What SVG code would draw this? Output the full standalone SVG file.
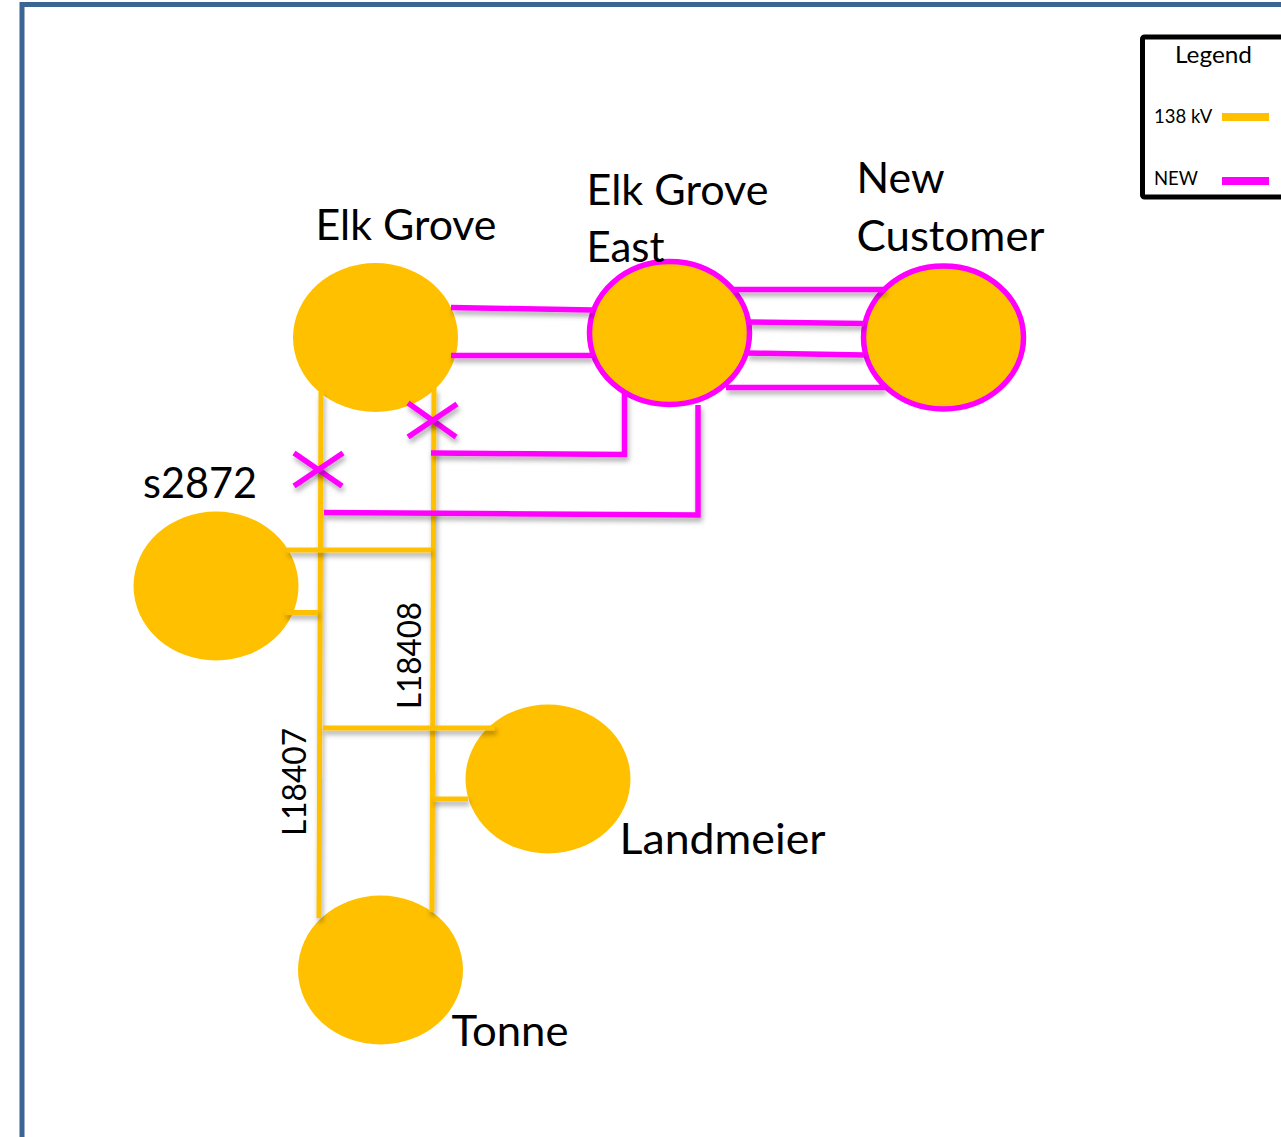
<svg xmlns="http://www.w3.org/2000/svg" width="1281" height="1137" viewBox="0 0 1281 1137">
<style>
text{font-family:"Lato","Open Sans","Liberation Sans",sans-serif;fill:#000}
.big{font-size:43px}
.mid{font-size:32.5px}
.leg{font-size:18.5px}
.hv{fill:#FFC000;stroke:none}
.nw{fill:#FFC000;stroke:#FF00FF;stroke-width:5.5}
#connectors line,#connectors polyline{fill:none;stroke-width:5;filter:url(#sh)}
.y{stroke:#FFC000}
#connectors .m{stroke:#FF00FF;stroke-width:5.5}
</style>
<defs>
<filter id="sh" x="0" y="0" width="1281" height="1137" filterUnits="userSpaceOnUse" primitiveUnits="userSpaceOnUse">
<feDropShadow dx="1.5" dy="4" stdDeviation="2.5" flood-color="#000" flood-opacity="0.32"/>
</filter>
</defs>
<rect width="1281" height="1137" fill="#fff"/>
<rect id="frame" x="22" y="4.5" width="1400" height="1300" fill="none" stroke="#3B6593" stroke-width="5"/>
<g id="legend">
<rect x="1142.5" y="37" width="200" height="160" rx="2" fill="#fff" stroke="#000" stroke-width="5"/>
<text x="1175" y="62.500" style="font-size:24px" textLength="77" lengthAdjust="spacingAndGlyphs">Legend</text>
<text x="1154" y="123" class="leg">138 kV</text>
<text x="1154" y="185" class="leg">NEW</text>
<rect x="1222" y="113" width="47" height="8" fill="#FFC000"/>
<rect x="1222" y="177" width="47" height="8" fill="#FF00FF"/>
</g>
<g id="node-elk-grove"><ellipse class="hv" cx="375.500" cy="337.500" rx="82.500" ry="74.500"/><text x="315.500" y="239.500" class="big" textLength="181" lengthAdjust="spacingAndGlyphs">Elk Grove</text></g>
<g id="node-s2872"><ellipse class="hv" cx="216" cy="586" rx="82.500" ry="74.500"/><text x="143" y="497.500" class="big" textLength="114" lengthAdjust="spacingAndGlyphs">s2872</text></g>
<g id="node-landmeier"><ellipse class="hv" cx="548" cy="779" rx="82.500" ry="74.500"/><text x="619.500" y="854" class="big" textLength="206" lengthAdjust="spacingAndGlyphs">Landmeier</text></g>
<g id="node-tonne"><ellipse class="hv" cx="380.500" cy="970" rx="82.500" ry="74.500"/><text x="451.500" y="1045.500" class="big" textLength="117" lengthAdjust="spacingAndGlyphs">Tonne</text></g>
<g id="node-elk-grove-east"><ellipse class="nw" cx="669.500" cy="333" rx="80" ry="71.500"/><text x="586.500" y="205" class="big" textLength="182" lengthAdjust="spacingAndGlyphs">Elk Grove</text><text x="586.500" y="262" class="big" textLength="78" lengthAdjust="spacingAndGlyphs">East</text></g>
<g id="node-new-customer"><ellipse class="nw" cx="943.500" cy="337.500" rx="80" ry="71.500"/><text x="856.500" y="193" class="big" textLength="88" lengthAdjust="spacingAndGlyphs">New</text><text x="856.500" y="251" class="big" textLength="188" lengthAdjust="spacingAndGlyphs">Customer</text></g>
<g id="connectors">
<line class="y" x1="321" y1="392" x2="319" y2="918"/>
<line class="y" x1="434" y1="388" x2="432" y2="912"/>
<line class="y" x1="287" y1="550" x2="431" y2="550"/>
<line class="y" x1="285" y1="612.500" x2="318" y2="612.500"/>
<line class="y" x1="323" y1="728" x2="495" y2="728"/>
<line class="y" x1="433" y1="799" x2="468" y2="799"/>
<line class="m" x1="451" y1="307.500" x2="593" y2="310"/>
<line class="m" x1="451" y1="355.500" x2="593" y2="355.500"/>
<line class="m" x1="733" y1="289.500" x2="885" y2="289.500"/>
<line class="m" x1="748" y1="322" x2="864" y2="323.500"/>
<line class="m" x1="747" y1="353" x2="864" y2="355"/>
<line class="m" x1="726" y1="387.500" x2="885" y2="387.500"/>
<polyline class="m" points="431,453 624.500,454.500 624.500,392"/>
<polyline class="m" points="324,512.500 698,515 698,405"/>
<line class="m" x1="408" y1="403" x2="456" y2="437"/>
<line class="m" x1="408" y1="437" x2="457" y2="404"/>
<line class="m" x1="294" y1="453" x2="342" y2="486"/>
<line class="m" x1="294" y1="486" x2="343" y2="453"/>
</g>
<text class="mid" transform="translate(421,709) rotate(-90)" textLength="107" lengthAdjust="spacingAndGlyphs">L18408</text>
<text class="mid" transform="translate(306,836) rotate(-90)" textLength="108" lengthAdjust="spacingAndGlyphs">L18407</text>
</svg>
